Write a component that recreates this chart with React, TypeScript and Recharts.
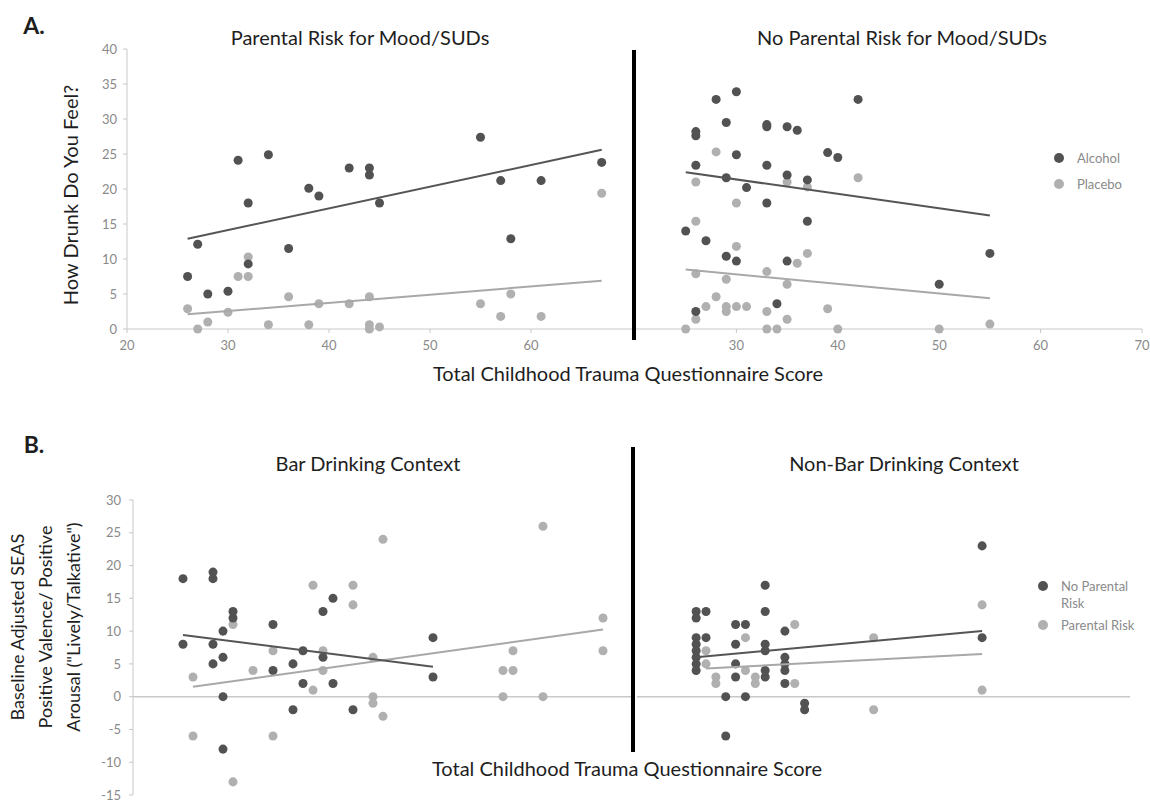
import React from "react";
import { Legend, ReferenceLine, Scatter, ScatterChart, XAxis, YAxis, ZAxis } from "recharts";

const FONT = "Lato, 'Open Sans', sans-serif";
const DARK = "#525252";
const LIGHT = "#b0b0b0";
const AXIS = "#c8c8c8";
const TICK = "#8a8a8a";

// ---- A. How drunk do you feel? ----
const aRiskAlcX = [26, 27, 28, 30, 31, 32, 32, 34, 36, 38, 39, 42, 44, 44, 45, 55, 57, 58, 61, 67];
const aRiskAlcY = [7.5, 12.1, 5.0, 5.4, 24.1, 18.0, 9.3, 24.9, 11.5, 20.1, 19.0, 23.0, 23.0, 22.0, 18.0, 27.4, 21.2, 12.9, 21.2, 23.8];
const aRiskPlaX = [26, 27, 28, 30, 31, 32, 32, 34, 36, 38, 39, 42, 44, 44, 44, 45, 55, 57, 58, 61, 67];
const aRiskPlaY = [2.9, 0, 1.0, 2.4, 7.5, 7.5, 10.3, 0.6, 4.6, 0.6, 3.6, 3.6, 4.6, 0.6, 0, 0.3, 3.6, 1.8, 5.0, 1.8, 19.4];
const aRiskFitX = [26, 67];
const aRiskAlcFit = [12.9, 25.6];
const aRiskPlaFit = [2.1, 6.9];

const aNoAlcX = [25, 26, 26, 26, 26, 27, 28, 29, 29, 29, 30, 30, 30, 31, 33, 33, 33, 33, 34, 35, 35, 35, 36, 37, 37, 39, 40, 42, 50, 55];
const aNoAlcY = [14.0, 28.2, 27.6, 23.4, 2.5, 12.6, 32.8, 29.5, 21.6, 10.4, 33.9, 24.9, 9.7, 20.2, 29.2, 28.9, 23.4, 18.0, 3.6, 28.9, 22.0, 9.7, 28.4, 21.3, 15.4, 25.2, 24.5, 32.8, 6.4, 10.8];
const aNoPlaX = [25, 26, 26, 26, 26, 27, 28, 28, 29, 29, 29, 30, 30, 30, 31, 33, 33, 33, 34, 35, 35, 35, 36, 37, 37, 39, 40, 42, 50, 55];
const aNoPlaY = [0, 21.0, 15.4, 7.9, 1.4, 3.2, 25.3, 4.6, 7.1, 3.2, 2.5, 18.0, 11.8, 3.2, 3.2, 8.2, 2.5, 0, 0, 21.0, 6.4, 1.4, 9.4, 20.3, 10.8, 2.9, 0, 21.6, 0, 0.7];
const aNoFitX = [25, 55];
const aNoAlcFit = [22.4, 16.2];
const aNoPlaFit = [8.5, 4.4];

// ---- B. Positive valence / arousal ----
const bBarNoX = [25, 25, 28, 28, 28, 28, 29, 29, 29, 29, 30, 30, 34, 34, 36, 36, 37, 37, 39, 39, 40, 40, 42, 50, 50];
const bBarNoY = [18, 8, 19, 18, 8, 5, 10, 6, 0, -8, 13, 12, 11, 4, 5, -2, 7, 2, 13, 6, 15, 2, -2, 9, 3];
const bBarRiskX = [26, 26, 30, 30, 32, 34, 34, 38, 38, 39, 39, 42, 42, 44, 44, 44, 45, 45, 57, 57, 58, 58, 61, 61, 67, 67];
const bBarRiskY = [3, -6, 11, -13, 4, 7, -6, 17, 1, 7, 4, 17, 14, 6, 0, -1, 24, -3, 4, 0, 7, 4, 26, 0, 12, 7];
const bBarNoFitX = [25, 50];
const bBarNoFit = [9.4, 4.55];
const bBarRiskFitX = [26, 67];
const bBarRiskFit = [1.5, 10.25];

const bNonNoX = [26, 26, 26, 26, 26, 26, 26, 26, 27, 27, 29, 29, 30, 30, 30, 30, 31, 31, 33, 33, 33, 33, 33, 33, 35, 35, 35, 35, 35, 37, 37, 55, 55];
const bNonNoY = [13, 12, 9, 8, 7, 6, 5, 4, 13, 9, 0, -6, 11, 8, 5, 3, 11, 0, 17, 13, 8, 7, 4, 3, 10, 6, 5, 4, 2, -1, -2, 23, 9];
const bNonRiskX = [27, 27, 28, 28, 31, 31, 32, 32, 36, 36, 44, 44, 55, 55];
const bNonRiskY = [7, 5, 3, 2, 9, 4, 3, 2, 11, 2, 9, -2, 14, 1];
const bNonNoFitX = [26, 55];
const bNonNoFit = [6.0, 10.0];
const bNonRiskFitX = [27, 55];
const bNonRiskFit = [4.3, 6.5];

const aYTicks = [0, 5, 10, 15, 20, 25, 30, 35, 40];
const bYTicks = [-15, -10, -5, 0, 5, 10, 15, 20, 25, 30];
const leftXTicks = [20, 30, 40, 50, 60];
const rightXTicks = [30, 40, 50, 60, 70];

type Pt = { x: number; y: number };
const pts = (xs: number[], ys: number[]): Pt[] => xs.map((x, i) => ({ x, y: ys[i] }));

const NoDot = () => <g />;

function DotLegend(props: any) {
  const { payload = [], gap = 9, textWidth = 120 } = props;
  const items = [...payload].filter((p: any) => p.type !== "none");
  return (
    <div style={{ fontFamily: FONT, fontSize: 13, color: TICK, lineHeight: "17px" }}>
      {items.map((it: any, i: number) => (
        <div key={i} style={{ display: "flex", alignItems: "flex-start", marginBottom: gap }}>
          <svg width={10} height={10} style={{ marginTop: 3.5, marginRight: 13, flex: "none" }}>
            <circle cx={5} cy={5} r={5} fill={it.color} />
          </svg>
          <span style={{ width: textWidth }}>{it.value}</span>
        </div>
      ))}
    </div>
  );
}

interface PanelProps {
  left: number;
  top: number;
  width: number;
  height: number;
  margin: { top: number; right: number; bottom: number; left: number };
  yDomain: [number, number];
  yTicks: number[];
  xTicks: number[];
  showY: boolean;
  zeroAxis: boolean;
  dark: Pt[];
  light: Pt[];
  darkFit: Pt[];
  lightFit: Pt[];
  darkName: string;
  lightName: string;
  legend?: { left: number; top: number; gap: number; textWidth: number };
}

function Panel(p: PanelProps) {
  const xAxisH = p.zeroAxis ? 0 : 30;
  const plotH = p.height - p.margin.top - p.margin.bottom - xAxisH;
  const zeroPx = (plotH * (0 - p.yDomain[0])) / (p.yDomain[1] - p.yDomain[0]);
  const tickFont = { fill: TICK, fontSize: 13, fontFamily: FONT };

  const ZeroTick = (t: any) => (
    <text x={t.x} y={t.y - zeroPx + 18} textAnchor="middle" dominantBaseline="middle" {...tickFont}>
      {t.payload.value}
    </text>
  );

  return (
    <div style={{ position: "absolute", left: p.left, top: p.top }}>
      <ScatterChart width={p.width} height={p.height} margin={p.margin}>
        <ZAxis range={[78, 78]} />
        {p.zeroAxis ? (
          <XAxis
            type="number"
            dataKey="x"
            domain={[20, 70]}
            ticks={p.xTicks}
            interval={0}
            height={0}
            tickSize={0}
            tickMargin={0}
            axisLine={false}
            tickLine={false}
            tick={ZeroTick}
          />
        ) : (
          <XAxis
            type="number"
            dataKey="x"
            domain={[20, 70]}
            ticks={p.xTicks}
            interval={0}
            height={30}
            tickSize={4}
            tickMargin={8}
            axisLine={{ stroke: AXIS }}
            tickLine={{ stroke: AXIS }}
            tick={tickFont}
          />
        )}
        <YAxis
          type="number"
          dataKey="y"
          domain={p.yDomain}
          ticks={p.yTicks}
          interval={0}
          hide={!p.showY}
          width={40}
          tickSize={4}
          tickMargin={p.zeroAxis ? 8 : 6}
          axisLine={{ stroke: AXIS }}
          tickLine={{ stroke: AXIS }}
          tick={tickFont}
        />
        {p.zeroAxis && <ReferenceLine y={0} stroke={AXIS} strokeWidth={1.5} />}
        <Scatter name={p.lightName} data={p.light} fill={LIGHT} isAnimationActive={false} />
        <Scatter name={p.darkName} data={p.dark} fill={DARK} isAnimationActive={false} />
        <Scatter data={p.lightFit} line={{ stroke: "#a8a8a8", strokeWidth: 2 }} shape={NoDot} legendType="none" isAnimationActive={false} />
        <Scatter data={p.darkFit} line={{ stroke: "#555555", strokeWidth: 2 }} shape={NoDot} legendType="none" isAnimationActive={false} />
        {p.legend && (
          <Legend
            layout="vertical"
            align="center"
            verticalAlign="middle"
            wrapperStyle={{ left: p.legend.left, top: p.legend.top, width: 160 }}
            content={<DotLegend gap={p.legend.gap} textWidth={p.legend.textWidth} />}
          />
        )}
      </ScatterChart>
    </div>
  );
}

function Txt({ cx, cy, size, bold, rotate, children, lh }: any) {
  return (
    <div
      style={{
        position: "absolute",
        left: cx,
        top: cy,
        transform: `translate(-50%, -50%)${rotate ? ` rotate(${rotate}deg)` : ""}`,
        fontFamily: FONT,
        fontSize: size,
        fontWeight: bold ? 700 : 400,
        color: "#1e1e1e",
        whiteSpace: "pre",
        textAlign: "center",
        lineHeight: lh ?? "normal",
      }}
    >
      {children}
    </div>
  );
}

const blackLine = (left: number, top: number, height: number) => (
  <div style={{ position: "absolute", left, top, width: 4, height, background: "#000" }} />
);

export default function App() {
  return (
    <div style={{ position: "absolute", left: 0, top: 0, width: 1150, height: 804, background: "#fff", overflow: "hidden", fontFamily: FONT }}>
      <Panel
        left={0}
        top={0}
        width={640}
        height={380}
        margin={{ top: 49, right: 8, bottom: 21, left: 87 }}
        yDomain={[0, 40]}
        yTicks={aYTicks}
        xTicks={leftXTicks}
        showY
        zeroAxis={false}
        dark={pts(aRiskAlcX, aRiskAlcY)}
        light={pts(aRiskPlaX, aRiskPlaY)}
        darkFit={pts(aRiskFitX, aRiskAlcFit)}
        lightFit={pts(aRiskFitX, aRiskPlaFit)}
        darkName="Alcohol"
        lightName="Placebo"
      />
      <Panel
        left={600}
        top={0}
        width={550}
        height={380}
        margin={{ top: 49, right: 8, bottom: 21, left: 35 }}
        yDomain={[0, 40]}
        yTicks={aYTicks}
        xTicks={rightXTicks}
        showY={false}
        zeroAxis={false}
        dark={pts(aNoAlcX, aNoAlcY)}
        light={pts(aNoPlaX, aNoPlaY)}
        darkFit={pts(aNoFitX, aNoAlcFit)}
        lightFit={pts(aNoFitX, aNoPlaFit)}
        darkName="Alcohol"
        lightName="Placebo"
        legend={{ left: 454, top: 149.5, gap: 9, textWidth: 100 }}
      />
      <Panel
        left={0}
        top={440}
        width={640}
        height={364}
        margin={{ top: 60, right: 7, bottom: 9, left: 93 }}
        yDomain={[-15, 30]}
        yTicks={bYTicks}
        xTicks={leftXTicks}
        showY
        zeroAxis
        dark={pts(bBarNoX, bBarNoY)}
        light={pts(bBarRiskX, bBarRiskY)}
        darkFit={pts(bBarNoFitX, bBarNoFit)}
        lightFit={pts(bBarRiskFitX, bBarRiskFit)}
        darkName="No Parental Risk"
        lightName="Parental Risk"
      />
      <Panel
        left={600}
        top={440}
        width={550}
        height={364}
        margin={{ top: 60, right: 20, bottom: 9, left: 37 }}
        yDomain={[-15, 30]}
        yTicks={bYTicks}
        xTicks={rightXTicks}
        showY={false}
        zeroAxis
        dark={pts(bNonNoX, bNonNoY)}
        light={pts(bNonRiskX, bNonRiskY)}
        darkFit={pts(bNonNoFitX, bNonNoFit)}
        lightFit={pts(bNonRiskFitX, bNonRiskFit)}
        darkName="No Parental Risk"
        lightName="Parental Risk"
        legend={{ left: 438, top: 137.5, gap: 5, textWidth: 86 }}
      />

      {blackLine(632, 50, 290)}
      {blackLine(631, 447, 305)}

      <Txt cx={34} cy={25} size={23} bold>A.</Txt>
      <Txt cx={34} cy={444} size={23} bold>B.</Txt>
      <Txt cx={360} cy={37} size={20}>Parental Risk for Mood/SUDs</Txt>
      <Txt cx={902} cy={37} size={20}>No Parental Risk for Mood/SUDs</Txt>
      <Txt cx={368} cy={463} size={20}>Bar Drinking Context</Txt>
      <Txt cx={904} cy={463} size={20}>Non-Bar Drinking Context</Txt>
      <Txt cx={628} cy={373} size={20}>Total Childhood Trauma Questionnaire Score</Txt>
      <Txt cx={627} cy={768} size={20}>Total Childhood Trauma Questionnaire Score</Txt>
      <Txt cx={70} cy={195} size={20} rotate={-90}>How Drunk Do You Feel?</Txt>
      <Txt cx={45} cy={627} size={18} rotate={-90} lh="28px">
        {"Baseline Adjusted SEAS\nPositive Valence/ Positive\nArousal (\"Lively/Talkative\")"}
      </Txt>
    </div>
  );
}
